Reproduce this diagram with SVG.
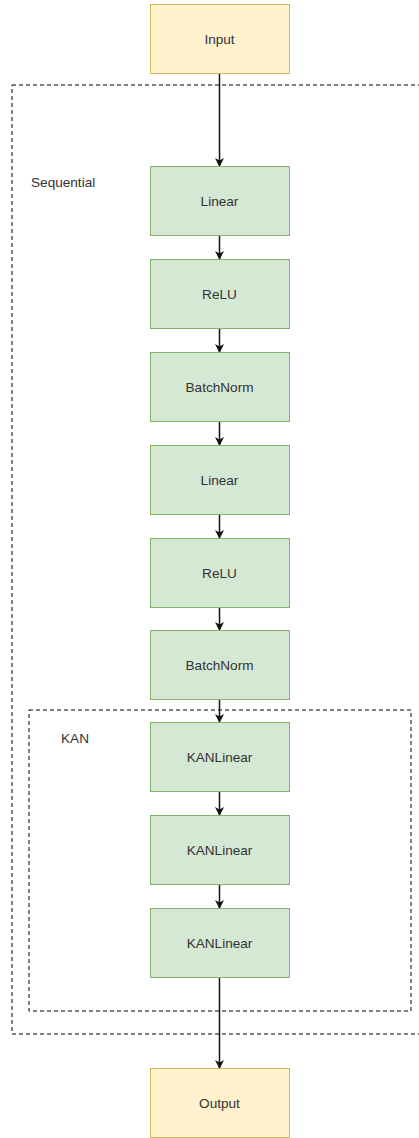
<svg xmlns="http://www.w3.org/2000/svg" width="419" height="1138" viewBox="0 0 419 1138">
  <style>
    .lbl { font-family: "Liberation Sans", Arial, sans-serif; font-size: 13.6px; fill: #333333; }
    .mid { text-anchor: middle; dominant-baseline: central; }
    .io { fill: #fff2cc; stroke: #d6b656; stroke-width: 1; }
    .op { fill: #d5e8d4; stroke: #82b366; stroke-width: 1; }
    .grp { fill: none; stroke: #000000; stroke-width: 1; stroke-dasharray: 4 3; }
    .edge { fill: none; stroke: #111111; stroke-width: 1.5; marker-end: url(#arrow); }
  </style>
  <defs>
    <marker id="arrow" viewBox="0 0 10 10" refX="9" refY="5" markerWidth="10" markerHeight="9" markerUnits="userSpaceOnUse" orient="auto">
      <path d="M0,0 L10,5 L0,10 L3,5 Z" fill="#111111"/>
    </marker>
  </defs>
  <rect width="419" height="1138" fill="#ffffff"/>

  <!-- containers -->
  <g id="sequential">
    <rect class="grp" x="12" y="85" width="420" height="949"/>
    <text class="lbl" x="31" y="187">Sequential</text>
  </g>
  <g id="kan">
    <rect class="grp" x="29" y="710" width="382" height="301"/>
    <text class="lbl" x="61" y="743">KAN</text>
  </g>

  <!-- connectors -->
  <g id="edges">
    <path class="edge" d="M219.5,74 V166"/>
    <path class="edge" d="M219.5,236 V259"/>
    <path class="edge" d="M219.5,328 V352"/>
    <path class="edge" d="M219.5,421 V445"/>
    <path class="edge" d="M219.5,514 V538"/>
    <path class="edge" d="M219.5,607 V630"/>
    <path class="edge" d="M219.5,699 V722"/>
    <path class="edge" d="M219.5,791 V815"/>
    <path class="edge" d="M219.5,884 V908"/>
    <path class="edge" d="M219.5,977 V1068"/>
  </g>

  <!-- nodes -->
  <g id="input"><rect class="io" x="150.5" y="4.5" width="139" height="69"/><text class="lbl mid" x="219.5" y="39">Input</text></g>
  <g id="linear1"><rect class="op" x="150.5" y="166.5" width="139" height="69"/><text class="lbl mid" x="219.5" y="201">Linear</text></g>
  <g id="relu1"><rect class="op" x="150.5" y="259.5" width="139" height="69"/><text class="lbl mid" x="219.5" y="294">ReLU</text></g>
  <g id="batchnorm1"><rect class="op" x="150.5" y="352.5" width="139" height="69"/><text class="lbl mid" x="219.5" y="387">BatchNorm</text></g>
  <g id="linear2"><rect class="op" x="150.5" y="445.5" width="139" height="69"/><text class="lbl mid" x="219.5" y="480">Linear</text></g>
  <g id="relu2"><rect class="op" x="150.5" y="538.5" width="139" height="69"/><text class="lbl mid" x="219.5" y="573">ReLU</text></g>
  <g id="batchnorm2"><rect class="op" x="150.5" y="630.5" width="139" height="69"/><text class="lbl mid" x="219.5" y="665">BatchNorm</text></g>
  <g id="kanlinear1"><rect class="op" x="150.5" y="722.5" width="139" height="69"/><text class="lbl mid" x="219.5" y="757">KANLinear</text></g>
  <g id="kanlinear2"><rect class="op" x="150.5" y="815.5" width="139" height="69"/><text class="lbl mid" x="219.5" y="850">KANLinear</text></g>
  <g id="kanlinear3"><rect class="op" x="150.5" y="908.5" width="139" height="69"/><text class="lbl mid" x="219.5" y="943">KANLinear</text></g>
  <g id="output"><rect class="io" x="150.5" y="1068.5" width="139" height="69"/><text class="lbl mid" x="219.5" y="1103">Output</text></g>
</svg>
